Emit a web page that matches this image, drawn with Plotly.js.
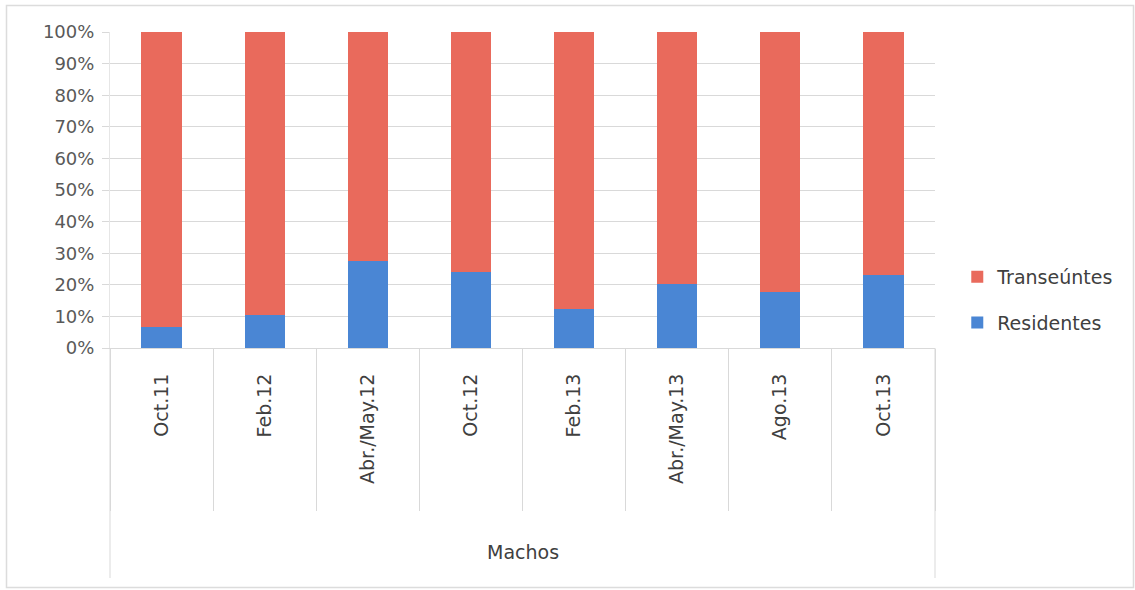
<!DOCTYPE html>
<html>
<head>
<meta charset="utf-8">
<script src="https://cdn.plot.ly/plotly-3.0.1.min.js"></script>
<style>
  html, body { margin: 0; padding: 0; background: #fff; }
  #chart { width: 1135px; height: 590px; }
</style>
</head>
<body>
<div id="chart"></div>
<script>
// Sampling campaigns (males)
const periods = ['Oct.11', 'Feb.12', 'Abr./May.12', 'Oct.12', 'Feb.13', 'Abr./May.13', 'Ago.13', 'Oct.13'];
const groupLabel = 'Machos';

// Share of each class per campaign, in percent
const residentes  = [6.7, 10.5, 27.6, 24.1, 12.2, 20.2, 17.8, 23.1];
const transeuntes = [93.3, 89.5, 72.4, 75.9, 87.8, 79.8, 82.2, 76.9];

const yTicks = [0, 10, 20, 30, 40, 50, 60, 70, 80, 90, 100];

const FONT = 'DejaVu Sans, Verdana, sans-serif';
const GRID = '#d9d9d9';

const traces = [
  {
    type: 'bar', name: 'Residentes', x: periods, y: residentes,
    marker: { color: '#4a86d4' }, legendgroup: 'r', legendrank: 2, hoverinfo: 'x+y+name'
  },
  {
    type: 'bar', name: 'Transeúntes', x: periods, y: transeuntes,
    marker: { color: '#e96a5c' }, legendgroup: 't', legendrank: 1, hoverinfo: 'x+y+name'
  }
];

// Plot area in pixels, used for the frame and group bracket
const L = 110, R = 935, T = 32, B = 348, W = 1135, H = 590;
const pw = R - L, ph = B - T;
const px = v => (v - L) / pw;
const py = v => (B - v) / ph;

const layout = {
  width: W, height: H,
  margin: { l: L, r: W - R, t: T, b: H - B, pad: 0 },
  paper_bgcolor: '#ffffff',
  plot_bgcolor: '#ffffff',
  barmode: 'stack',
  bargap: 0.61,
  showlegend: true,
  font: { family: FONT, color: '#404040' },
  xaxis: {
    type: 'category',
    tickson: 'boundaries',
    ticks: 'outside',
    ticklen: 162,
    tickcolor: GRID,
    tickwidth: 1,
    tickangle: -90,
    ticklabelstandoff: 17,
    tickfont: { family: FONT, size: 19, color: '#404040' },
    showgrid: false,
    showline: true,
    linecolor: GRID,
    linewidth: 1,
    zeroline: false,
    fixedrange: true,
    title: { text: '' }
  },
  yaxis: {
    range: [0, 100],
    tickvals: yTicks,
    ticktext: yTicks.map(v => v + '%'),
    ticks: 'outside',
    ticklen: 7,
    tickcolor: GRID,
    ticklabelstandoff: 4,
    tickfont: { family: FONT, size: 18, color: '#595959' },
    showgrid: true,
    gridcolor: GRID,
    gridwidth: 1,
    showline: true,
    linecolor: '#e6e6e6',
    zeroline: false,
    fixedrange: true
  },
  legend: {
    x: 1.027, xanchor: 'left',
    y: py(300), yanchor: 'middle',
    traceorder: 'grouped',
    tracegroupgap: 18,
    font: { family: FONT, size: 19, color: '#404040' },
    bgcolor: 'rgba(0,0,0,0)'
  },
  annotations: [
    // outer category level
    { xref: 'paper', yref: 'paper', x: 0.5, y: py(552), xanchor: 'center', yanchor: 'middle',
      text: groupLabel, showarrow: false,
      font: { family: FONT, size: 19, color: '#404040' } }
  ],
  shapes: [
    // bracket around the outer category level
    { type: 'line', xref: 'paper', yref: 'paper', x0: 0, x1: 0, y0: 0, y1: py(578),
      line: { color: GRID, width: 1 } },
    { type: 'line', xref: 'paper', yref: 'paper', x0: 1, x1: 1, y0: 0, y1: py(578),
      line: { color: GRID, width: 1 } },
    // chart frame
    { type: 'rect', xref: 'paper', yref: 'paper',
      x0: px(6.5), x1: px(1133.5), y0: py(5.5), y1: py(587.5),
      line: { color: '#dcdcdc', width: 1.5 }, fillcolor: 'rgba(0,0,0,0)', layer: 'below' }
  ]
};

Plotly.newPlot('chart', traces, layout, { displayModeBar: false, staticPlot: true });
</script>
</body>
</html>
